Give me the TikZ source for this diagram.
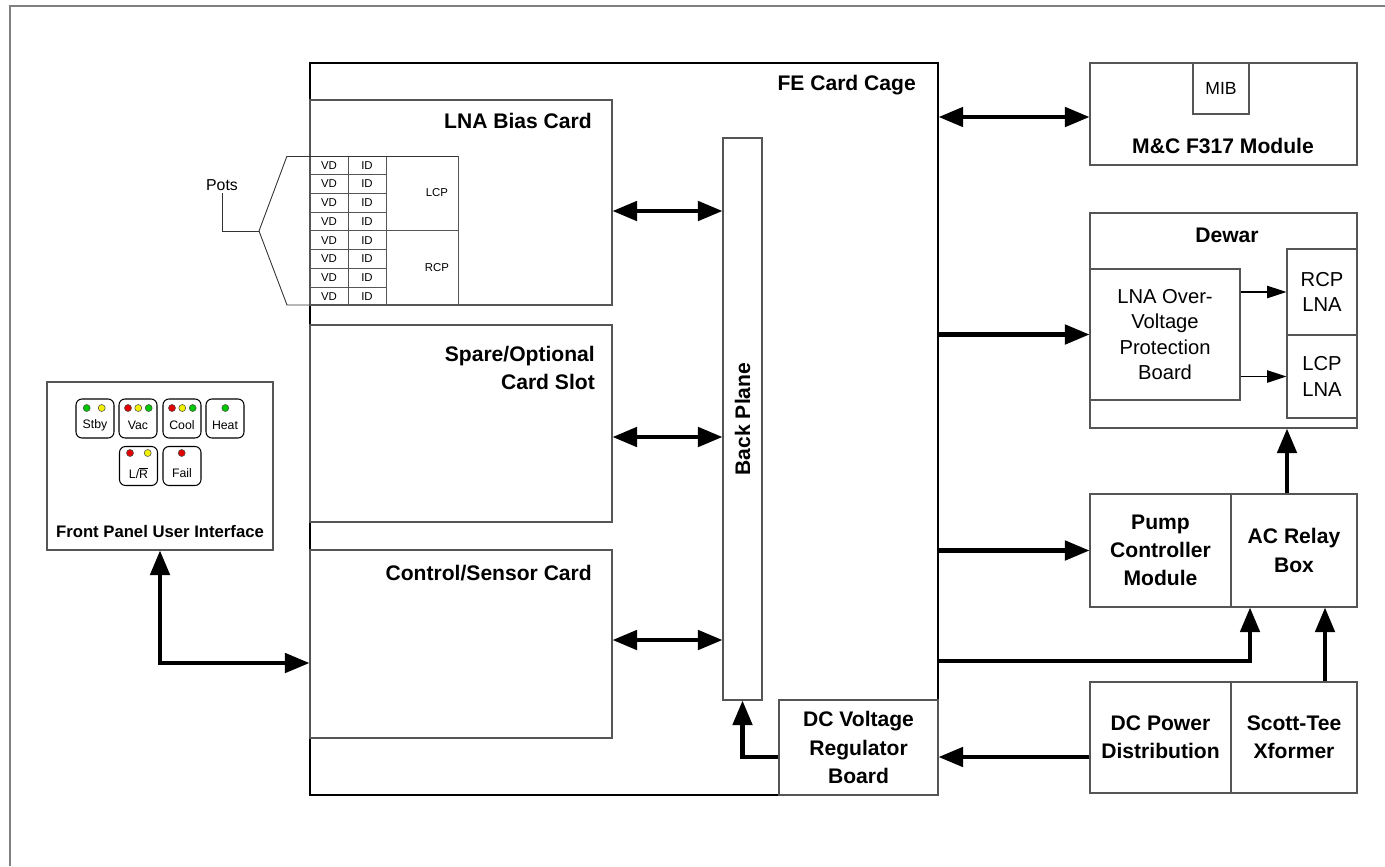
\documentclass[tikz,border=0pt]{standalone}
\usepackage{fontspec}
\setmainfont{Liberation Sans}
\usetikzlibrary{arrows.meta, fit}
\definecolor{boxgray}{HTML}{555555}
\definecolor{ledred}{HTML}{E00000}
\definecolor{ledyellow}{HTML}{F2F200}
\definecolor{ledgreen}{HTML}{00C800}
\tikzset{
  cage/.style={draw=black, line width=0.7pt, inner sep=0pt},
  box/.style={draw=boxgray, line width=0.6pt, inner sep=0pt},
  head/.style={font=\fontsize{12}{16}\selectfont\bfseries, align=center},
  body/.style={font=\fontsize{11.5}{14.5}\selectfont, align=center},
  celltext/.style={font=\fontsize{6.5}{7}\selectfont, inner sep=0pt},
  btn/.style={draw=black, rounded corners=3.4pt, line width=0.6pt, minimum width=0.76cm, minimum height=0.78cm, inner sep=0pt},
  btnlbl/.style={font=\fontsize{7}{8}\selectfont, inner sep=0pt},
  led/.style={draw=black!70, line width=0.3pt},
  bus/.style={line width=2.3pt, -{Triangle[length=14pt,width=11pt]}},
  busboth/.style={line width=2.3pt, {Triangle[length=14pt,width=11pt]}-{Triangle[length=14pt,width=11pt]}},
  sig/.style={line width=0.8pt, -{Triangle[length=11pt,width=7pt]}},
}
\begin{document}
\begin{tikzpicture}[x=0.02cm, y=-0.02cm]
  \useasboundingbox (0,0) rectangle (1385,866);
  % --- page frame (only its top and left edges are on the sheet) ---
  \draw[gray, line width=1.2pt] (10,866) -- (10,6) -- (1385,6);
  % --- FE card cage with its three cards, back plane and regulator ---
  \node[cage, fit={(310,63) (938,795)}] (cage) {};
  \node[head, anchor=base east] (cagelbl) at (922,90) {FE Card Cage};
  \node[box, fit={(310,100) (612,305)}] (lna) {};
  \node[head, anchor=base east] (lnalbl) at (598,128) {LNA Bias Card};
  \node[box, fit={(310,325) (612,522)}] (spare) {};
  \node[head, anchor=north east, align=right] (sparelbl) at (601,340) {Spare/Optional\\Card Slot};
  \node[box, fit={(310,550) (612,738)}] (ctrl) {};
  \node[head, anchor=base east] (ctrllbl) at (598,580) {Control/Sensor Card};
  \node[box, fit={(723,138) (762,700)}] (bp) {};
  \node[head, rotate=90] (bplbl) at (bp) {Back Plane};
  \node[box, fit={(779,700) (938,795)}] (reg) {};
  \node[head] (reglbl) at (reg) {DC Voltage\\Regulator\\Board};
  % --- pots table on the LNA bias card ---
  \def\ty{156}\def\rh{18.7}
  \foreach \i in {0,...,7}{
    \pgfmathsetmacro\yy{\ty+\rh*\i+\rh/2}
    \node[celltext] (vd\i) at (329,\yy) {VD};
    \node[celltext] (id\i) at (367,\yy) {ID};
  }
  \foreach \i in {1,2,3,5,6,7}
    \draw[boxgray, line width=0.4pt] (310,\ty+\rh*\i) -- (386,\ty+\rh*\i);
  \draw[boxgray, line width=0.4pt] (310,\ty+\rh*4) -- (458,\ty+\rh*4);
  \draw[boxgray, line width=0.4pt] (348,\ty) -- (348,305) (386,\ty) -- (386,305) (458,\ty) -- (458,305);
  \draw[black!80, line width=0.5pt] (287,\ty) -- (458,\ty);
  \node[celltext] (lcplbl) at (437,193) {LCP};
  \node[celltext] (rcplbl) at (437,268) {RCP};
  % bracket + leader to the label
  \coordinate (apex) at (259,231);
  \draw[black!80, line width=0.5pt] (287,\ty) -- (apex) -- (287,305) -- (310,305);
  \node[font=\fontsize{9}{10}\selectfont, inner sep=1pt] (pots) at (222,185) {Pots};
  \draw[black!80, line width=0.5pt] (apex) -| (pots.south);
  % --- front panel with its lamp buttons ---
  \node[box, fit={(47,382) (273,550)}] (fp) {};
  \node[font=\fontsize{9.5}{11}\selectfont\bfseries] (fplbl) at (160,532) {Front Panel User Interface};
  \foreach \n/\lbl/\cx/\cy in {stby/Stby/95/418.5, vac/Vac/138/418.5, cool/Cool/182/418.5,
      heat/Heat/225/418.5, lr/{L/$\overline{\mbox{R}}$}/138.5/466, fail/Fail/182/466}{
    \node[btn] (\n) at (\cx,\cy) {};
    \node[btnlbl] (\n-t) at (\cx,\cy+7) {\lbl};
  }
  \foreach \lx/\ly/\lc in {86.7/408/ledgreen, 101.7/408/ledyellow,
      128/408/ledred, 138.3/408/ledyellow, 148.7/408/ledgreen,
      172/408/ledred, 182.3/408/ledyellow, 192.7/408/ledgreen,
      225.3/408/ledgreen, 130/453/ledred, 147.7/453/ledyellow, 181.7/453/ledred}
    \fill[led, fill=\lc] (\lx,\ly) circle (2pt);
  % --- right column: M&C, dewar, pump/relay, power ---
  \node[box, fit={(1090,63) (1357,165)}] (mc) {};
  \node[box, fit={(1193,63) (1249,114)}] (mib) {};
  \node[font=\fontsize{10}{12}\selectfont] (miblbl) at (mib) {MIB};
  \node[head, anchor=base] (mclbl) at (1223,153) {M\&C F317 Module};
  \node[box, fit={(1090,213) (1357,428)}] (dewar) {};
  \node[head, anchor=base] (dewarlbl) at (1227,242) {Dewar};
  \node[box, fit={(1090,269) (1240,400)}] (ovp) {};
  \node[body] (ovplbl) at (ovp) {LNA Over-\\Voltage\\Protection\\Board};
  \node[box, fit={(1287,249) (1357,335)}] (rcp) {};
  \node[body] (rcplna) at (rcp) {RCP\\LNA};
  \node[box, fit={(1287,335) (1357,418)}] (lcp) {};
  \node[body] (lcplna) at (lcp) {LCP\\LNA};
  \node[box, fit={(1090,494) (1231,607)}] (pump) {};
  \node[head] (pumplbl) at (pump) {Pump\\Controller\\Module};
  \node[box, fit={(1231,494) (1357,607)}] (relay) {};
  \node[head] (relaylbl) at (relay) {AC Relay\\Box};
  \node[box, fit={(1090,682) (1231,793)}] (dcp) {};
  \node[head] (dcplbl) at (dcp) {DC Power\\Distribution};
  \node[box, fit={(1231,682) (1357,793)}] (scott) {};
  \node[head] (scottlbl) at (scott) {Scott-Tee\\Xformer};
  % --- connectors ---
  \coordinate (yl) at (0,211);
  \coordinate (ys) at (0,437);
  \coordinate (yc) at (0,640);
  \coordinate (yfp) at (0,663);
  \coordinate (yreg) at (0,757);
  \coordinate (ymc) at (0,117);
  \coordinate (acin) at (1250,661);
  \coordinate (xst) at (1325,0);
  \coordinate (xdw) at (1287,0);
  \draw[busboth] (lna.east |- yl) -- (bp.west |- yl);
  \draw[busboth] (spare.east |- ys) -- (bp.west |- ys);
  \draw[busboth] (ctrl.east |- yc) -- (bp.west |- yc);
  \draw[busboth] (fp.south) |- (ctrl.west |- yfp);
  \draw[bus] (reg.west |- yreg) -| (bp.south);
  \draw[bus] (dcp.west |- yreg) -- (reg.east |- yreg);
  \draw[busboth] (cage.east |- ymc) -- (mc.west |- ymc);
  \draw[bus] (cage.east |- ovp.west) -- (ovp.west);
  \draw[bus] (cage.east |- pump.west) -- (pump.west);
  \draw[bus] (cage.east |- acin) -| (acin |- relay.south);
  \draw[bus] (scott.north -| xst) -- (relay.south -| xst);
  \draw[bus] (relay.north -| xdw) -- (dewar.south -| xdw);
  \draw[sig] (ovp.east |- rcp.west) -- (rcp.west);
  \draw[sig] (ovp.east |- lcp.west) -- (lcp.west);
\end{tikzpicture}
\end{document}
